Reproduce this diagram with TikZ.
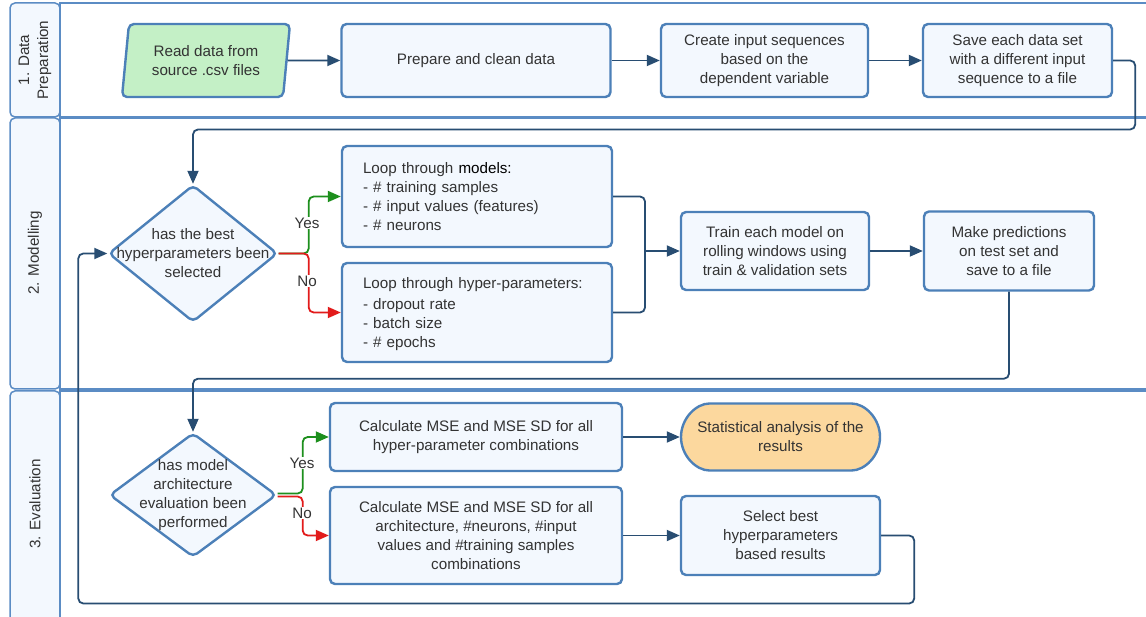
\documentclass[tikz,border=0pt]{standalone}
\usepackage{fontspec}
\setmainfont{Liberation Sans}
\usepackage{tikz}
\usetikzlibrary{
    arrows.meta,
    shapes.geometric,
    shapes.misc
}
\definecolor{laneline}{HTML}{5B8CC4}
\definecolor{lanefill}{HTML}{F3F8FE}
\definecolor{boxline}{HTML}{4C80B8}
\definecolor{boxfill}{HTML}{F3F8FE}
\definecolor{flowline}{HTML}{284D72}
\definecolor{readfill}{HTML}{C4F0C6}
\definecolor{statfill}{HTML}{FCD89E}
\definecolor{yesgreen}{HTML}{1D8F1D}
\definecolor{nored}{HTML}{E21B1B}
\definecolor{txtgray}{HTML}{333333}

\begin{document}
\begin{tikzpicture}[x=1pt, y=-1pt,
            every node/.style={font=\fontsize{15.2}{19}\selectfont, text=txtgray},
            lane/.style={draw=laneline, line width=1.5pt},
            box/.style={draw=boxline, fill=boxfill, line width=2.4pt, rounded corners=5pt, align=center, inner sep=0pt},
            listbox/.style={box, align=left, text width=228pt, inner xsep=21pt, minimum width=270pt},
            decision/.style={draw=boxline, fill=boxfill, line width=2.4pt, diamond, rounded corners=5pt, inner sep=0pt},
            answer/.style={fill=white, inner sep=1pt},
            link/.style={draw=flowline, line width=1.8pt, rounded corners=5pt},
            flow/.style={link, -{Triangle[length=13pt, width=11pt]}},
            yesflow/.style={flow, draw=yesgreen},
            noflow/.style={flow, draw=nored}]
            \clip (0,0) rectangle (1146,617);
            
            \draw[lane, fill=lanefill, rounded corners=5pt] (10,3) rectangle (60,117);
            \draw[lane, fill=white] (60,3) rectangle (1160,117);
            \draw[lane, fill=lanefill, rounded corners=5pt] (10,118) rectangle (60,389);
            \draw[lane, fill=white] (60,118) rectangle (1160,389);
            \draw[lane, fill=lanefill, rounded corners=5pt] (10,391) rectangle (60,640);
            \draw[lane, fill=white] (60,391) rectangle (1160,640);
            
            \node[rotate=90, align=center] (lane1) at (35,60) {1. Data\\Preparation};
            \node[rotate=90] (lane2) at (35,253) {2. Modelling};
            \node[rotate=90] (lane3) at (35,504) {3. Evaluation};
            
            \node[box, fill=readfill, trapezium, trapezium left angle=77, trapezium right angle=103, trapezium stretches body, minimum width=168pt, minimum height=73pt] (read) at (206,60.5) {Read data from\\source .csv files};
            \node[box, minimum width=269pt, minimum height=73pt] (prep) at (476,60.5) {Prepare and clean data};
            \node[box, minimum width=207pt, minimum height=73pt] (create) at (764.5,60.5) {Create input sequences\\based on the\\dependent variable};
            \node[box, minimum width=189pt, minimum height=73pt] (save) at (1017.5,60.5) {Save each data set\\with a different input\\sequence to a file};
            
            \node[decision, minimum width=169pt, minimum height=137pt] (dec1) at (193,253.5) {};
            \node[align=center] (dec1txt) at (dec1) {has the best\\hyperparameters been\\selected};
            \node[listbox, minimum height=101pt] (loopm) at (477,196.5) {Loop through \textcolor{black}{models:}\\- \# training samples\\- \# input values (features)\\- \# neurons};
            \node[listbox, minimum height=99pt] (looph) at (477,312.5) {\raisebox{0pt}[14pt][0pt]{}Loop through hyper-parameters:\\[2pt]- dropout rate\\- batch size\\- \# epochs};
            \node[box, minimum width=188pt, minimum height=78pt] (train) at (775,251) {Train each model on\\rolling windows using\\train \& validation sets};
            \node[box, minimum width=170pt, minimum height=79pt] (pred) at (1009,251) {Make predictions\\on test set and\\save to a file};
            
            \node[decision, minimum width=167pt, minimum height=124pt] (dec2) at (193,495) {};
            \node[align=center] (dec2txt) at (dec2) {has model\\architecture\\evaluation been\\performed};
            \node[box, minimum width=292pt, minimum height=68pt] (calc1) at (476,437) {Calculate MSE and MSE SD for all\\hyper-parameter combinations};
            \node[box, fill=statfill, rounded rectangle, minimum width=199pt, minimum height=67pt] (stat) at (780.5,437) {Statistical analysis of the\\results};
            \node[box, minimum width=292pt, minimum height=97pt] (calc2) at (476,535.5) {Calculate MSE and MSE SD for all\\architecture, \#neurons, \#input\\values and \#training samples\\combinations};
            \node[box, minimum width=199pt, minimum height=79pt] (select) at (780.5,535.5) {Select best\\hyperparameters\\based results};
            
            \draw[flow] (read) -- (prep);
            \draw[flow] (prep) -- (create);
            \draw[flow] (create) -- (save);
            \draw[flow] (save.east) -| ++(22,69) -| (dec1.north);
            
            \draw[yesflow] (dec1.east) -- ++(30,0) |- (loopm.west);
            \draw[noflow] (dec1.east) -- ++(30,0) |- (looph.west);
            \coordinate (merge) at (645,251);
            \draw[link] (loopm.east) -| (merge);
            \draw[link] (looph.east) -| (merge);
            \draw[flow] (merge) -- (train.west);
            \draw[flow] (train) -- (pred);
            \draw[flow] (pred.south) -- ++(0,87) -| (dec2.north);
            
            \draw[yesflow] ([yshift=1.5pt]dec2.east) -- ++(25,0) |- (calc1.west);
            \draw[noflow] ([yshift=-1.5pt]dec2.east) -- ++(25,0) |- (calc2.west);
            \draw[flow] (calc1) -- (stat);
            \draw[flow] (calc2) -- (select);
            \draw[flow] (select.east) -| ++(33,68) -| ([xshift=-29pt]dec1.west) -- (dec1.west);
            
            \node[answer] (yes1) at (307,223) {Yes};
            \node[answer] (no1) at (307,281) {No};
            \node[answer] (yes2) at (302,463) {Yes};
            \node[answer] (no2) at (302,513) {No};
\end{tikzpicture}
\end{document}
